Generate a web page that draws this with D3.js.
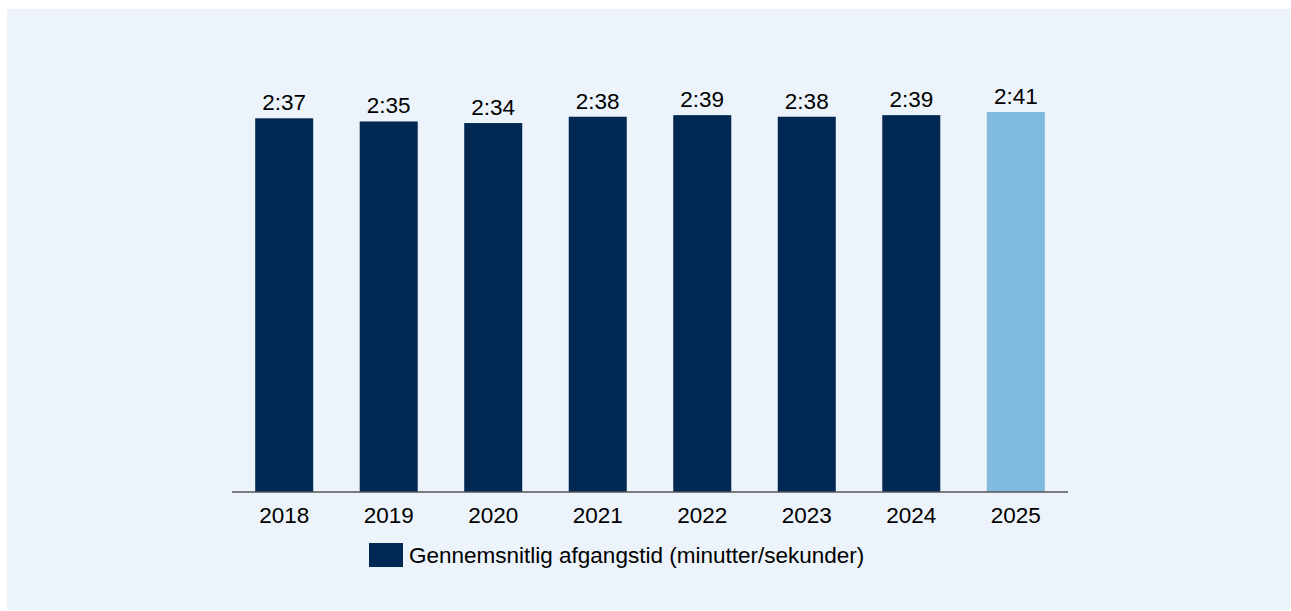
<!DOCTYPE html>
<html>
<head>
<meta charset="utf-8">
<script src="https://cdn.jsdelivr.net/npm/d3@7"></script>
<style>
  body { margin: 0; background: #ffffff; }
  svg { display: block; font-family: "Liberation Sans", Arial, sans-serif; }
</style>
</head>
<body>
<svg class="chart"></svg>
<script>
// data (bars are drawn from the minutes.seconds value read as a decimal number)
const YEARS = ["2018", "2019", "2020", "2021", "2022", "2023", "2024", "2025"];
const LABELS = ["2:37", "2:35", "2:34", "2:38", "2:39", "2:38", "2:39", "2:41"];
const VALUES = [2.37, 2.35, 2.34, 2.38, 2.39, 2.38, 2.39, 2.41];
const LEGEND_TEXT = "Gennemsnitlig afgangstid (minutter/sekunder)";

const WIDTH = 1291, HEIGHT = 611;
const DARK = "#002852", LIGHT = "#80badf";
const FONT_SIZE = "22.5px";

const CHART = d3.select(".chart").attr("width", WIDTH).attr("height", HEIGHT);

CHART.append("rect")
    .attr("x", 7).attr("y", 9)
    .attr("width", 1283).attr("height", 601)
    .attr("fill", "#ecf3fa");

const X_fxn = d3.scaleBand().domain(YEARS).range([232, 1068]).paddingInner(0.445).paddingOuter(0.222);
const Y_fxn = d3.scaleLinear().domain([0, 2.41]).range([492, 112]);

const data = YEARS.map((y, i) => ({ year: y, val: VALUES[i], label: LABELS[i] }));

CHART.selectAll(".bar").data(data).enter().append("rect")
    .attr("class", "bar")
    .attr("x", d => X_fxn(d.year))
    .attr("y", d => Y_fxn(d.val))
    .attr("width", X_fxn.bandwidth())
    .attr("height", d => Y_fxn(0) - Y_fxn(d.val))
    .attr("fill", (d, i) => i === YEARS.length - 1 ? LIGHT : DARK);

CHART.selectAll(".val").data(data).enter().append("text")
    .attr("class", "val")
    .attr("x", d => X_fxn(d.year) + X_fxn.bandwidth() / 2)
    .attr("y", d => Y_fxn(d.val) - 8)
    .attr("text-anchor", "middle")
    .style("font-size", FONT_SIZE)
    .attr("fill", "#000")
    .text(d => d.label);

const xAxis = CHART.append("g")
    .attr("transform", `translate(0, ${Y_fxn(0)})`)
    .call(d3.axisBottom(X_fxn).tickSize(0).tickPadding(0));
xAxis.select(".domain").attr("stroke", "#555").attr("stroke-width", 1.5).attr("d", "M232,0H1068");
xAxis.selectAll("text")
    .attr("dy", null).attr("y", 31)
    .style("font-size", FONT_SIZE).attr("fill", "#000")
    .style("font-family", "Liberation Sans, Arial, sans-serif");

// legend
CHART.append("rect")
    .attr("x", 369).attr("y", 543)
    .attr("width", 34).attr("height", 24)
    .attr("fill", DARK);
CHART.append("text")
    .attr("x", 409).attr("y", 563)
    .style("font-size", FONT_SIZE)
    .attr("fill", "#000")
    .text(LEGEND_TEXT);
</script>
</body>
</html>
